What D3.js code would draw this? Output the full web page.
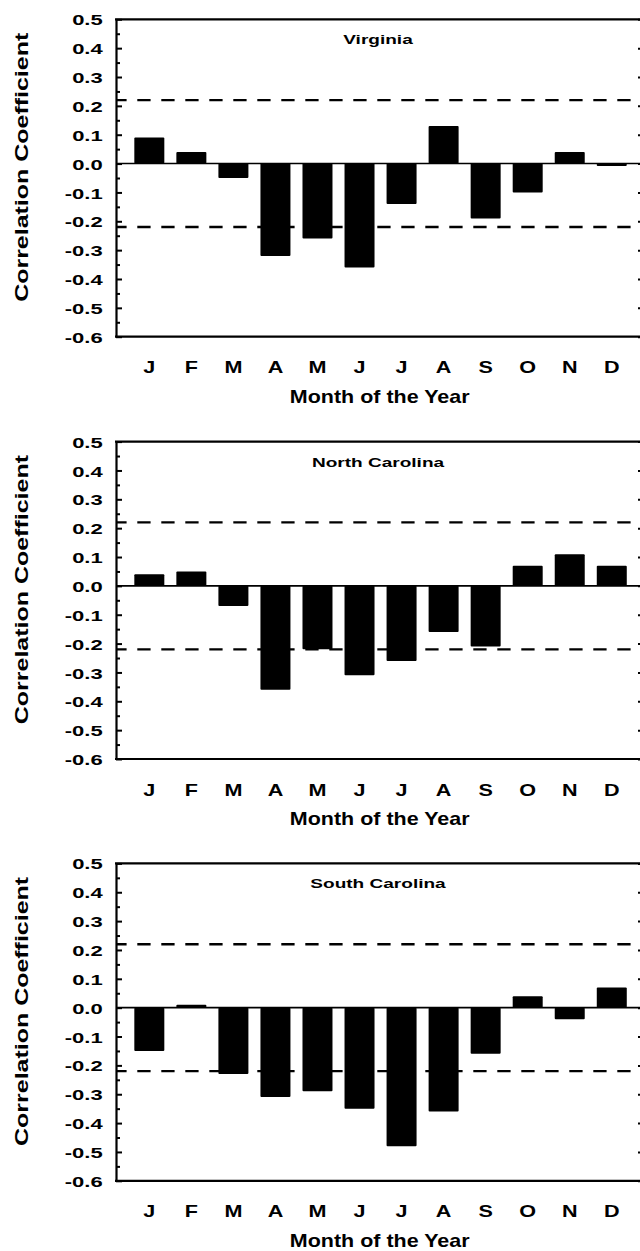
<!DOCTYPE html>
<html>
<head>
<meta charset="utf-8">
<script src="https://cdn.jsdelivr.net/npm/d3@7"></script>
<style>
  html, body { margin: 0; padding: 0; background: #fff; }
  svg { display: block; }
  text { font-family: "Liberation Sans", Arial, Helvetica, sans-serif; font-weight: bold; fill: #000; }
</style>
</head>
<body>
<svg id="chart" width="640" height="1251"></svg>
<script>
// Monthly correlation coefficients, one series per state
const months = ["J", "F", "M", "A", "M", "J", "J", "A", "S", "O", "N", "D"];
const states = ["Virginia", "North Carolina", "South Carolina"];
const virginia      = [0.09, 0.04, -0.05, -0.32, -0.26, -0.36, -0.14, 0.13, -0.19, -0.10, 0.04, -0.008];
const northCarolina = [0.04, 0.05, -0.07, -0.36, -0.22, -0.31, -0.26, -0.16, -0.21, 0.07, 0.11, 0.07];
const southCarolina = [-0.15, 0.01, -0.23, -0.31, -0.29, -0.35, -0.48, -0.36, -0.16, 0.04, -0.04, 0.07];
const yTicks = [0.5, 0.4, 0.3, 0.2, 0.1, 0.0, -0.1, -0.2, -0.3, -0.4, -0.5, -0.6];
const yMinorTicks = [0.45, 0.35, 0.25, 0.15, 0.05, -0.05, -0.15, -0.25, -0.35, -0.45, -0.55];
const significance = [0.22, -0.22];
const yTitle = "Correlation Coefficient";
const xTitle = "Month of the Year";

const series = [virginia, northCarolina, southCarolina];

const svg = d3.select("#chart");
svg.append("rect").attr("width", 640).attr("height", 1251).attr("fill", "#fff");

const plotLeft = 116, plotRight = 642;
const panelTops = [19.3, 441.6, 863.4];
const panelHeight = 317.4;

const x = d3.scaleBand()
  .domain(d3.range(months.length))
  .range([128.3, 632.8])
  .paddingInner(0.2864)
  .paddingOuter(0.1432);

const fmt = d => d.toFixed(1);

states.forEach((state, p) => {
  const top = panelTops[p];
  const bottom = top + panelHeight;
  const values = series[p];

  const y = d3.scaleLinear().domain([-0.6, 0.5]).range([bottom, top]);
  const g = svg.append("g");

  // bars
  g.selectAll("rect.bar")
    .data(values)
    .join("rect")
    .attr("class", "bar")
    .attr("x", (d, i) => x(i))
    .attr("width", x.bandwidth())
    .attr("y", d => y(Math.max(0, d)))
    .attr("height", d => Math.abs(y(d) - y(0)))
    .attr("rx", 1)
    .attr("fill", "#000");

  // zero line
  g.append("line")
    .attr("x1", plotLeft).attr("x2", plotRight)
    .attr("y1", y(0)).attr("y2", y(0))
    .attr("stroke", "#000").attr("stroke-width", 1.6);

  // significance limits
  g.selectAll("line.sig")
    .data(significance)
    .join("line")
    .attr("class", "sig")
    .attr("x1", plotLeft).attr("x2", plotRight)
    .attr("y1", d => y(d)).attr("y2", d => y(d))
    .attr("stroke", "#000").attr("stroke-width", 2.4)
    .attr("stroke-dasharray", "13.3 10.7")
    .attr("stroke-dashoffset", 2.7);

  // frame: top and bottom lines
  [top, bottom].forEach(yy => {
    g.append("line")
      .attr("x1", plotLeft - 1).attr("x2", plotRight)
      .attr("y1", yy).attr("y2", yy)
      .attr("stroke", "#000").attr("stroke-width", 2.2);
  });

  // left axis: inward ticks with labels
  const left = g.append("g")
    .attr("transform", `translate(${plotLeft},0)`)
    .call(d3.axisLeft(y).tickValues(yTicks).tickSizeInner(-6).tickSizeOuter(0).tickPadding(13.3).tickFormat(fmt));
  left.select(".domain").attr("stroke-width", 2.2);
  left.selectAll(".tick line").attr("stroke-width", 2);
  left.selectAll(".tick text")
    .attr("x", 0)
    .attr("dy", "0.36em")
    .attr("transform", "translate(-13.3,0) scale(1.42,1)")
    .style("font-size", "15.5px")
    .style("font-family", null)
    .attr("font-family", null);

  // left axis minor ticks
  const leftMinor = g.append("g")
    .attr("transform", `translate(${plotLeft},0)`)
    .call(d3.axisLeft(y).tickValues(yMinorTicks).tickSizeInner(-4).tickSizeOuter(0).tickFormat(""));
  leftMinor.select(".domain").remove();
  leftMinor.selectAll(".tick line").attr("stroke-width", 2);

  // right axis ticks (inward)
  const right = g.append("g")
    .attr("transform", `translate(${plotRight},0)`)
    .call(d3.axisRight(y).tickValues(yTicks).tickSizeInner(-4).tickSizeOuter(0).tickFormat(""));
  right.selectAll(".tick line").attr("stroke-width", 2);

  // month labels
  const bottomAxis = g.append("g")
    .attr("transform", `translate(0,${bottom})`)
    .call(d3.axisBottom(x).tickSize(0).tickPadding(25.2).tickFormat(i => months[i]));
  bottomAxis.select(".domain").remove();
  bottomAxis.selectAll(".tick text")
    .attr("transform", "scale(1.35,1)")
    .style("font-size", "16px")
    .attr("font-family", null);

  // panel title
  g.append("text")
    .attr("transform", `translate(378,${top + 25}) scale(1.41,1)`)
    .attr("text-anchor", "middle")
    .style("font-size", "13.5px")
    .text(state);

  // x-axis title
  g.append("text")
    .attr("transform", `translate(379.7,${bottom + 66}) scale(1.13,1)`)
    .attr("text-anchor", "middle")
    .style("font-size", "19px")
    .text(xTitle);

  // y-axis title
  g.append("text")
    .attr("transform", `translate(28.3,${top + 148}) rotate(-90) scale(1.35,1)`)
    .attr("text-anchor", "middle")
    .style("font-size", "18.5px")
    .text(yTitle);
});
</script>
</body>
</html>
